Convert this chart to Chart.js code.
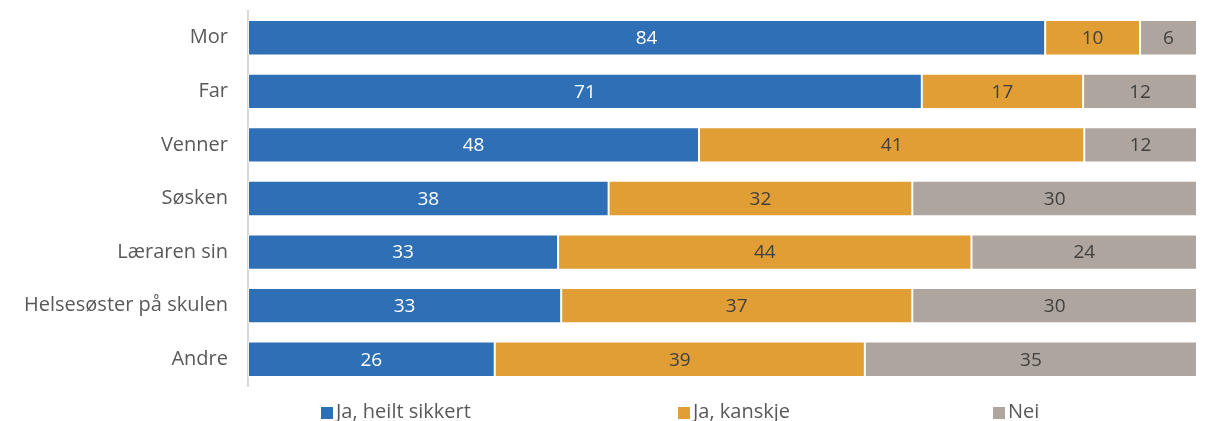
<!DOCTYPE html>
<html lang="nn">
<head>
    <meta charset="UTF-8">
    <title>Kven vil du snakke med</title>
    <script src="https://cdn.jsdelivr.net/npm/chart.js"></script>
    <style>
        body {
            margin: 0;
            background: #ffffff;
        }
        #wrap {
            width: 1205px;
            height: 421px;
        }
    </style>
</head>
<body>
    <div id="wrap"><canvas id="graf"></canvas></div>

    <script>
        // Kategoriar og verdiar (prosent, avrunda slik dei står i figuren)
        const kategoriar = ['Mor', 'Far', 'Venner', 'Søsken', 'Læraren sin', 'Helsesøster på skulen', 'Andre'];
        const heiltSikkert = [84, 71, 48, 38, 33, 33, 26];
        const kanskje = [10, 17, 41, 32, 44, 37, 39];
        const nei = [6, 12, 12, 30, 24, 30, 35];

        const serienamn = ['Ja, heilt sikkert', 'Ja, kanskje', 'Nei'];
        const fargar = ['#2E6FB5', '#E09E35', '#ADA59E'];
        const tekstfargar = ['#ffffff', '#404040', '#404040'];

        const FONT = '"Open Sans", Roboto, sans-serif';

        // Kvar rad skal fylle 100 %, sjølv om dei avrunda tala ikkje alltid gjer det
        const seriar = [heiltSikkert, kanskje, nei];
        const summar = kategoriar.map((_, i) => seriar.reduce((s, arr) => s + arr[i], 0));

        const datasets = seriar.map((arr, d) => ({
            label: serienamn[d],
            data: arr.map((v, i) => v / summar[i] * 100),
            raw: arr,
            backgroundColor: fargar[d],
            borderColor: 'rgba(255,255,255,0.6)',
            borderWidth: 1,
            borderSkipped: false,
            categoryPercentage: 1,
            barPercentage: 0.66
        }));

        // Tal inne i søylene
        const verdietikettar = {
            id: 'verdietikettar',
            afterDatasetsDraw(chart) {
                const ctx = chart.ctx;
                ctx.save();
                ctx.font = '19px ' + FONT;
                ctx.textAlign = 'center';
                ctx.textBaseline = 'middle';
                chart.data.datasets.forEach((ds, d) => {
                    const meta = chart.getDatasetMeta(d);
                    meta.data.forEach((bar, i) => {
                        const midt = (bar.x + bar.base) / 2;
                        ctx.fillStyle = tekstfargar[d];
                        ctx.fillText(String(ds.raw[i]), midt, bar.y + 1);
                    });
                });
                ctx.restore();
            }
        };

        // Forklaring under figuren, med breie mellomrom
        const forklaring = {
            id: 'forklaring',
            afterDraw(chart) {
                const ctx = chart.ctx;
                const posX = [321, 678, 993];
                const y = 412;
                ctx.save();
                ctx.font = '20px ' + FONT;
                ctx.textAlign = 'left';
                ctx.textBaseline = 'middle';
                chart.data.datasets.forEach((ds, d) => {
                    ctx.fillStyle = ds.backgroundColor;
                    ctx.fillRect(posX[d], y - 5, 12, 12);
                    ctx.fillStyle = '#595959';
                    ctx.fillText(ds.label, posX[d] + 15, y);
                });
                ctx.restore();
            }
        };

        new Chart(document.getElementById('graf'), {
            type: 'bar',
            data: {
                labels: kategoriar,
                datasets: datasets
            },
            options: {
                indexAxis: 'y',
                responsive: true,
                maintainAspectRatio: false,
                animation: false,
                layout: {
                    padding: { top: 11, right: 8, bottom: 35, left: 0 }
                },
                plugins: {
                    legend: { display: false },
                    tooltip: { enabled: false }
                },
                scales: {
                    x: {
                        stacked: true,
                        min: 0,
                        max: 100,
                        display: false
                    },
                    y: {
                        stacked: true,
                        grid: { display: false, drawTicks: false },
                        border: { display: true, color: '#d9d9d9', width: 2 },
                        ticks: {
                            color: '#595959',
                            padding: 20,
                            font: { size: 20, family: FONT }
                        },
                        afterFit(scale) {
                            scale.width = 248;
                            scale.paddingTop = 0;
                            scale.paddingBottom = 0;
                        }
                    }
                }
            },
            plugins: [verdietikettar, forklaring]
        });
    </script>
</body>
</html>
